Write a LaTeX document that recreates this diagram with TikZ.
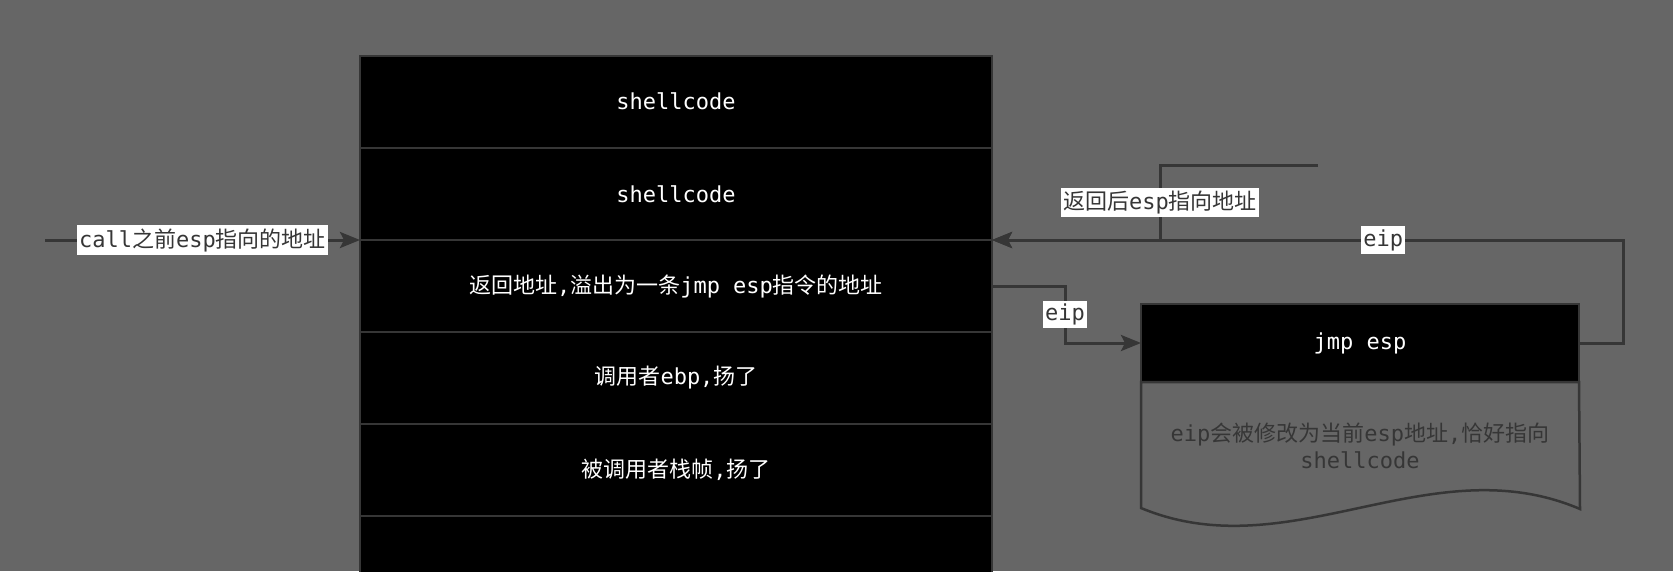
\documentclass[tikz,border=0pt]{standalone}
\usepackage{fontspec}
\setmainfont{DejaVu Sans Mono}
\newfontfamily\cjk{Noto Sans CJK SC}
\usepackage{xcolor}
\usepackage{tikz}
\usetikzlibrary{arrows.meta}

\definecolor{bg}{HTML}{666666}
\definecolor{edge}{HTML}{363636}
\newcommand{\zh}[1]{{\cjk #1}}

\tikzset{
	cell/.style={draw=edge, line width=2, fill=black, text=white, outer sep=0,
		font=\fontsize{22}{26}\selectfont, minimum width=632, minimum height=92},
	conn/.style={draw=edge, line width=3, -{Stealth[length=20pt, width=16pt, inset=4pt]}},
	tag/.style={fill=white, text=edge, inner xsep=2pt, inner ysep=3pt,
		font=\fontsize{22}{26}\selectfont},
}

\begin{document}
\begin{tikzpicture}[x=1pt, y=-1pt]

\useasboundingbox (0,0) rectangle (1673,571);
\fill[bg] (0,0) rectangle (1673,571);
\clip (0,0) rectangle (1673,571);

% stack
\node[cell] (r1) at (676,101.5) {shellcode};
\node[cell] (r2) at (676,194) {shellcode};
\node[cell] (r3) at (676,286) {\zh{返回地址},\zh{溢出为一条}jmp esp\zh{指令的地址}};
\node[cell] (r4) at (676,378) {\zh{调用者}ebp,\zh{扬了}};
\node[cell] (r5) at (676,470) {\zh{被调用者栈帧},\zh{扬了}};
\node[cell] (r6) at (676,562) {};

% jmp esp and its note
\node[cell, minimum width=438, minimum height=78] (jmp) at (1360,343) {jmp esp};
\draw[draw=edge, line width=2.5, fill=bg] (jmp.south west) -- ++(0,126)
	.. controls (1290,570) and (1430,445) .. (1580,509) -- (jmp.south east) -- cycle;
\node[text=edge, align=center, font=\fontsize{22}{27}\selectfont] (note) at (1360,446)
	{eip\zh{会被修改为当前}esp\zh{地址},\zh{恰好指向}\\shellcode};

% connectors
\coordinate (callfrom) at (45,240);
\coordinate (esptail) at (1318,165);
\coordinate (espjoin) at (1160,240);

\draw[conn] (callfrom) -- node[tag] {call\zh{之前}esp\zh{指向的地址}} (r3.north west);
\draw[conn] (r3.east) -- ++(73,0) |- node[tag, pos=0.25] {eip} (jmp.west);
\draw[conn] (jmp.east) -- ++(44,0) |- node[tag, pos=0.69] {eip} (r3.north east);
\draw[conn] (esptail) -| node[tag, pos=0.75] {\zh{返回后}esp\zh{指向地址}} (espjoin) -- (r3.north east);

\end{tikzpicture}
\end{document}
